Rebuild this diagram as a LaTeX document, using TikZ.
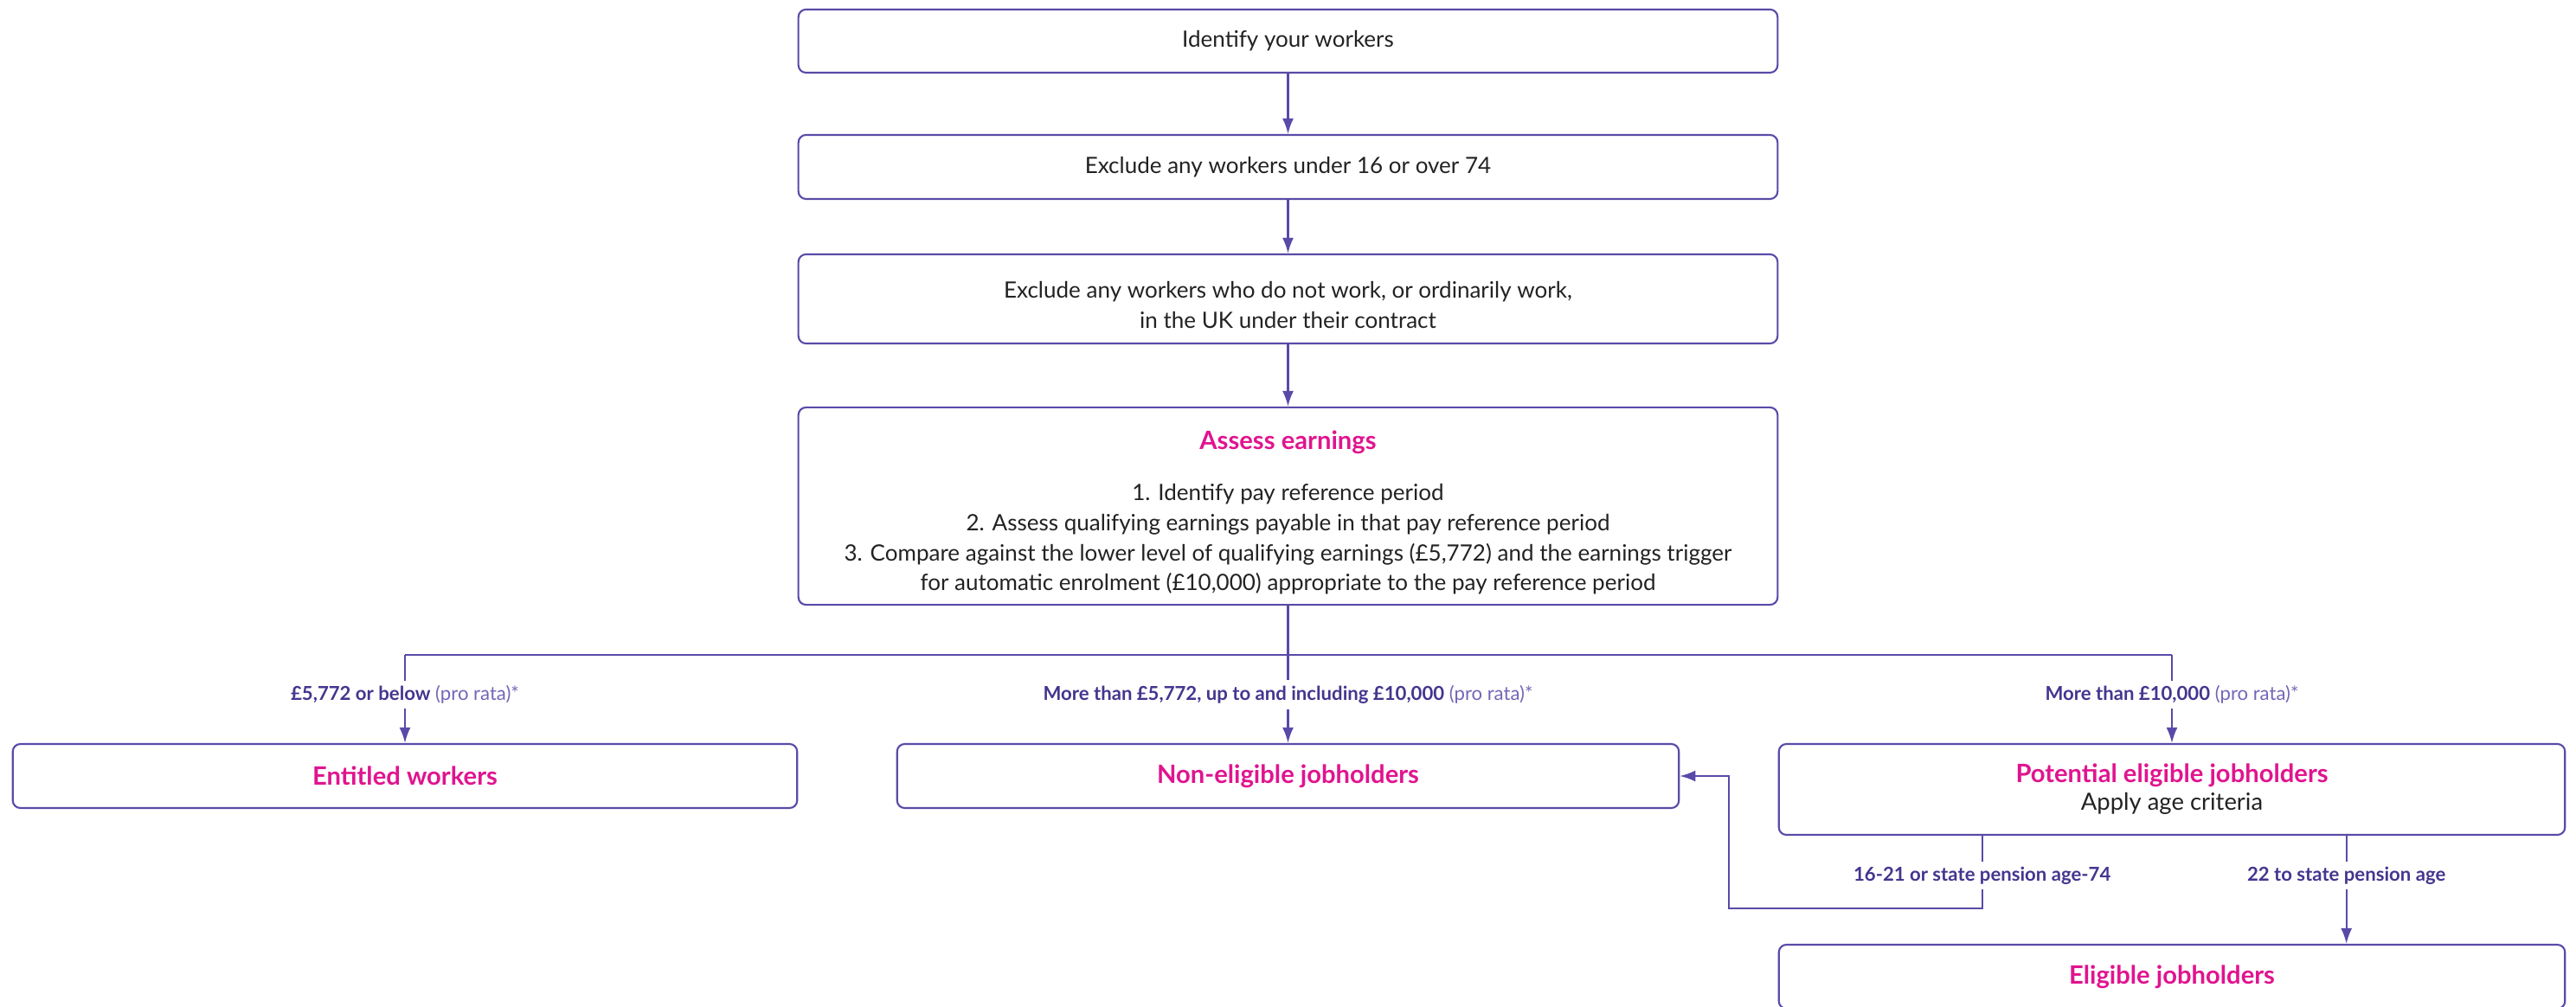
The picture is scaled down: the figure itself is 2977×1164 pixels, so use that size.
\documentclass[tikz,border=0pt]{standalone}
\usepackage{fontspec}
\setmainfont{Lato}
\usetikzlibrary{positioning,calc,arrows.meta}

\definecolor{linepurple}{HTML}{5A4AA8}
\definecolor{labelpurple}{HTML}{45358F}
\definecolor{softpurple}{HTML}{7466B8}
\definecolor{titlepink}{HTML}{E0148F}
\definecolor{bodytext}{HTML}{222222}

\begin{document}
\begin{tikzpicture}[x=0.01cm, y=-0.01cm,
  box/.style={rectangle, draw=linepurple, line width=0.6pt, rounded corners=2.5pt,
    align=center, text=bodytext, inner sep=0pt, font=\fontsize{7.4}{9.9}\selectfont},
  wide/.style={box, minimum width=11.31cm},
  side/.style={box, minimum width=9.06cm},
  lbl/.style={fill=white, inner xsep=2pt, inner ysep=1.5pt, text=labelpurple,
    font=\fontsize{6.3}{7}\selectfont},
  line/.style={draw=linepurple, line width=0.6pt},
  arrow/.style={line, -{Latex[length=1.8mm, width=1.3mm]}}]
  \useasboundingbox (0,0) rectangle (2977,1164);

  % Checks on every worker
  \node[wide, minimum height=0.73cm] (identify) at (1488.5,47.5) {Identify your workers};
  \node[wide, minimum height=0.74cm] (exclAge) at (1488.5,193) {Exclude any workers under 16 or over 74};
  \node[wide, minimum height=1.03cm] (exclUK) at (1488.5,345.5)
    {\rule{0pt}{9.3pt}Exclude any workers who do not work, or ordinarily work,\\ in the UK under their contract};
  \node[wide, minimum height=2.28cm] (assess) at (1488.5,585)
    {\rule{0pt}{10.5pt}{\fontsize{8.3}{10}\selectfont\bfseries\color{titlepink}Assess earnings}\\[2.4mm]
     1. Identify pay reference period\\
     2. Assess qualifying earnings payable in that pay reference period\\
     3. Compare against the lower level of qualifying earnings (£5,772) and the earnings trigger\\
     for automatic enrolment (£10,000) appropriate to the pay reference period};

  \draw[arrow] (identify) -- (exclAge);
  \draw[arrow] (exclAge) -- (exclUK);
  \draw[arrow] (exclUK) -- (assess);

  % Earnings outcomes
  \node[side, minimum height=0.74cm] (entitled) at (468,897) {\textcolor{titlepink}{\fontsize{8.3}{10}\selectfont\bfseries Entitled workers}};
  \node[side, minimum width=9.03cm, minimum height=0.74cm] (nonelig) at (1488.5,897) {\textcolor{titlepink}{\fontsize{8.3}{10}\selectfont\bfseries Non-eligible jobholders}};
  \node[side, minimum width=9.08cm, minimum height=1.05cm] (potential) at (2510,912.5)
    {{\fontsize{8.3}{10}\selectfont\bfseries\color{titlepink}Potential eligible jobholders}\\[-0.3mm]
     {\fontsize{7.8}{10}\selectfont Apply age criteria}};
  \node[side, minimum width=9.08cm, minimum height=0.74cm] (eligible) at (2510,1129) {\textcolor{titlepink}{\fontsize{8.3}{10}\selectfont\bfseries Eligible jobholders}};

  \draw[line] (assess.south) -- ++(0,57) coordinate (split);
  \draw[line] (entitled.north |- split) -- (potential.north |- split);

  \node[lbl] (lblLow) at (entitled.north |- 0,803) {\textbf{£5,772 or below} \textcolor{softpurple}{(pro rata)*}};
  \node[lbl] (lblMid) at (nonelig.north |- 0,803) {\textbf{More than £5,772, up to and including £10,000} \textcolor{softpurple}{(pro rata)*}};
  \node[lbl] (lblHigh) at (potential.north |- 0,803) {\textbf{More than £10,000} \textcolor{softpurple}{(pro rata)*}};

  \draw[line] (entitled.north |- split) -- (lblLow);
  \draw[arrow] (lblLow) -- (entitled);
  \draw[line] (split) -- (lblMid);
  \draw[arrow] (lblMid) -- (nonelig);
  \draw[line] (potential.north |- split) -- (lblHigh);
  \draw[arrow] (lblHigh) -- (potential);

  % Age criteria
  \coordinate (ageYoung) at ($(potential.south west)+(236,0)$);
  \coordinate (ageMain) at ($(potential.south west)+(657,0)$);
  \node[lbl] (lblYoung) at (ageYoung |- 0,1012) {\textbf{16-21 or state pension age-74}};
  \node[lbl] (lblMain) at (ageMain |- 0,1012) {\textbf{22 to state pension age}};

  \draw[line] (ageYoung) -- (lblYoung);
  \draw[arrow] (lblYoung) -- (lblYoung |- 0,1050) -| ($(nonelig.east)+(57,0)$) -- (nonelig.east);
  \draw[line] (ageMain) -- (lblMain);
  \draw[arrow] (lblMain) -- (lblMain |- eligible.north);
\end{tikzpicture}
\end{document}
